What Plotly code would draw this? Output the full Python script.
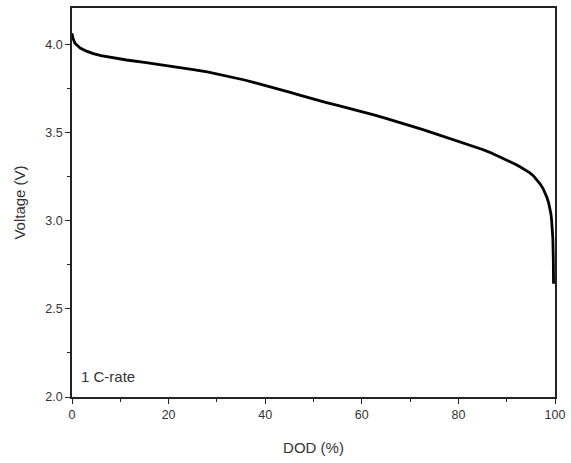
import plotly.graph_objects as go

# Discharge curve at 1 C: depth of discharge (%) vs cell voltage (V)
dod = [0, 0.15, 0.6, 1.7, 3.0, 4.4, 6.0, 7.9, 11.3, 15.0, 18.2, 21.5, 25.1,
       28.0, 30.6, 33.0, 35.5, 38.0, 40.0, 42.5, 45.0, 47.5, 50.0, 52.5,
       55.0, 57.5, 60.0, 62.5, 65.0, 67.5, 70.0, 72.5, 75.0, 77.5, 80.0,
       82.5, 85.0, 86.5, 88.0, 89.5, 90.7, 92.0, 93.0, 94.0, 94.8, 95.5,
       96.2, 96.9, 97.5, 98.0, 98.3, 98.7, 98.96, 99.15, 99.3, 99.45,
       99.55, 99.65, 99.7]
voltage = [4.064, 4.040, 4.007, 3.980, 3.962, 3.948, 3.937, 3.927, 3.912,
           3.898, 3.886, 3.872, 3.857, 3.844, 3.830, 3.816, 3.800, 3.782,
           3.768, 3.750, 3.730, 3.710, 3.690, 3.672, 3.655, 3.638, 3.620,
           3.601, 3.581, 3.561, 3.540, 3.518, 3.496, 3.474, 3.451, 3.428,
           3.404, 3.388, 3.370, 3.352, 3.336, 3.318, 3.302, 3.286, 3.272,
           3.256, 3.236, 3.210, 3.184, 3.157, 3.134, 3.100, 3.070, 3.040,
           3.003, 2.960, 2.900, 2.780, 2.642]

x_ticks = [0, 20, 40, 60, 80, 100]
y_ticks = [2.0, 2.5, 3.0, 3.5, 4.0]
label = "1 C-rate"

font = "Liberation Sans, Arial, sans-serif"
text_col = "#333333"

fig = go.Figure()
fig.add_trace(go.Scatter(
    x=dod, y=voltage, mode="lines",
    line=dict(color="black", width=2.8),
    showlegend=False,
))

axis_common = dict(
    showgrid=False, zeroline=False,
    showline=True, linecolor="#222222", linewidth=1.5,
    mirror=True,
    ticks="outside", ticklen=5, tickwidth=1.2, tickcolor="#222222",
    tickfont=dict(family=font, size=12.5, color=text_col),
    minor=dict(ticks="outside", ticklen=3, tickwidth=1, tickcolor="#222222"),
)

fig.update_xaxes(
    range=[0, 100], tickvals=x_ticks, ticktext=[str(v) for v in x_ticks],
    minor_dtick=10,
    title=dict(text="DOD (%)", font=dict(family=font, size=15, color=text_col),
               standoff=22),
    **axis_common,
)
fig.update_yaxes(
    range=[2.0, 4.207], tickvals=y_ticks, ticktext=[f"{v:.1f}" for v in y_ticks],
    minor_dtick=0.25,
    title=dict(text="Voltage (V)", font=dict(family=font, size=15, color=text_col),
               standoff=16),
    **axis_common,
)

fig.add_annotation(
    x=0, y=0, xref="paper", yref="paper", xanchor="left", yanchor="bottom",
    xshift=7, yshift=10, text=label, showarrow=False,
    font=dict(family=font, size=15, color=text_col),
)

fig.update_layout(
    width=571, height=463,
    margin=dict(l=72, r=16, t=6, b=66),
    paper_bgcolor="white", plot_bgcolor="white",
)

fig.write_html("out.html")
